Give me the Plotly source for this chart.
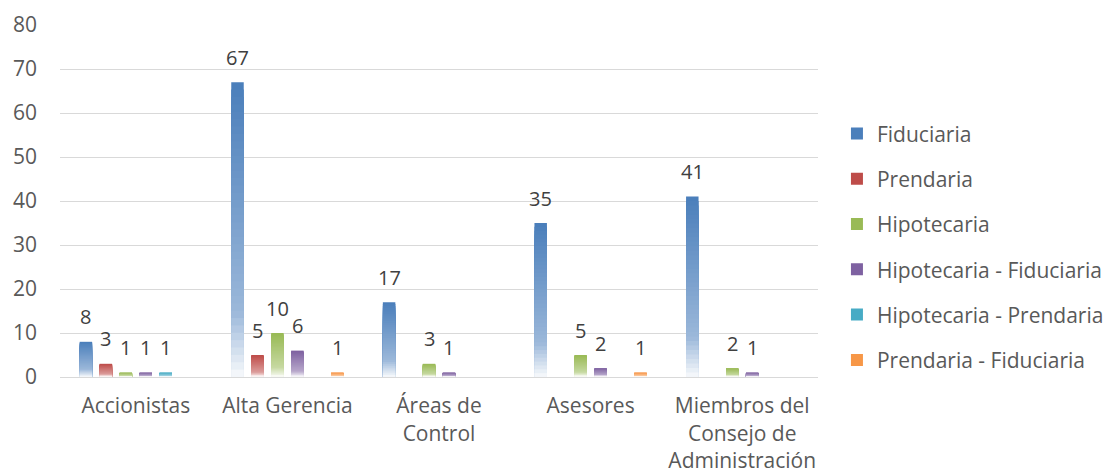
import plotly.graph_objects as go

categories = ["Accionistas", "Alta Gerencia", "Áreas de Control", "Asesores",
              "Miembros del Consejo de Administración"]
tick_labels = ["Accionistas", "Alta Gerencia", "Áreas de<br>Control", "Asesores",
               "Miembros del<br>Consejo de<br>Administración"]

series_names = ["Fiduciaria", "Prendaria", "Hipotecaria", "Hipotecaria - Fiduciaria",
                "Hipotecaria - Prendaria", "Prendaria - Fiduciaria"]
fiduciaria = [8, 67, 17, 35, 41]
prendaria = [3, 5, 0, 0, 0]
hipotecaria = [1, 10, 3, 5, 2]
hip_fiduciaria = [1, 6, 1, 2, 1]
hip_prendaria = [1, 0, 0, 0, 0]
pren_fiduciaria = [0, 1, 0, 1, 0]
series_values = [fiduciaria, prendaria, hipotecaria, hip_fiduciaria, hip_prendaria, pren_fiduciaria]

colors = ["#4a7ebb", "#be4b48", "#98b954", "#7d60a0", "#46aac5", "#f79646"]

FONT = "'Open Sans', 'Noto Sans', sans-serif"
BARGAP = 0.21
PLOT_W = 1105 - 60 - 287


def hex_to_rgb(h):
    h = h.lstrip("#")
    return tuple(int(h[i:i + 2], 16) for i in (0, 2, 4))


def mix(c, f):
    r, g, b = hex_to_rgb(c)
    return "rgb(%d,%d,%d)" % (round(255 + (r - 255) * f), round(255 + (g - 255) * f),
                              round(255 + (b - 255) * f))


def strength(t):
    # t: 0 at bottom of bar, 1 at top
    if t < 0.22:
        return 0.04 + (0.55 - 0.04) * t / 0.22
    return 0.55 + 0.45 * (t - 0.22) / 0.78


N = 40
fig = go.Figure()
for name, vals, col in zip(series_names, series_values, colors):
    # nested bars from 0: tallest first (top colour), shorter ones cover the lower part
    for k in range(N):
        frac = (N - k) / N
        t = (N - k - 0.5) / N
        fig.add_trace(go.Bar(
            x=categories, y=[v * frac for v in vals], name=name,
            offsetgroup=name, legendgroup=name, showlegend=(k == 0),
            marker=dict(color=mix(col, strength(t)), line=dict(width=0)),
            hoverinfo="skip"))

# data labels above bars
n_series = len(series_names)
cat_w = PLOT_W / len(categories)
slot = cat_w * (1 - BARGAP) / n_series
annotations = []
for i, vals in enumerate(series_values):
    xshift = (i - (n_series - 1) / 2) * slot
    for c, v in zip(categories, vals):
        if v:
            annotations.append(dict(
                x=c, y=v, xref="x", yref="y", text=str(v), showarrow=False,
                xshift=xshift, yshift=25, xanchor="center", yanchor="middle",
                font=dict(size=20, color="#404040", family=FONT)))

fig.update_layout(
    width=1105, height=475,
    margin=dict(l=60, r=287, t=25, b=98, autoexpand=False),
    paper_bgcolor="white", plot_bgcolor="white",
    barmode="group", bargap=BARGAP, bargroupgap=0.375,
    font=dict(family=FONT, color="#595959", size=21),
    annotations=annotations,
    legend=dict(x=1.025, y=0.37, xanchor="left", yanchor="middle",
                font=dict(size=21, color="#595959", family=FONT),
                tracegroupgap=15, itemwidth=30),
    showlegend=True,
)
fig.update_xaxes(type="category", tickvals=categories, ticktext=tick_labels,
                 showgrid=False, showline=True, linecolor="#d9d9d9", linewidth=1,
                 ticks="", tickfont=dict(size=21, color="#595959"), ticklabelstandoff=10,
                 automargin=False)
fig.update_yaxes(range=[0, 80], dtick=10, showgrid=True, gridcolor="#d9d9d9", gridwidth=1,
                 zeroline=True, zerolinecolor="#d9d9d9", zerolinewidth=1,
                 ticks="", tickfont=dict(size=21, color="#595959"), ticklabelstandoff=22,
                 automargin=False)

fig.write_html("out.html")
